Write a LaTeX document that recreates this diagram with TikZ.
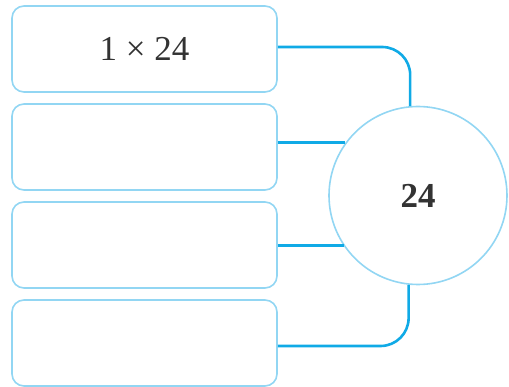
\documentclass[tikz,border=0pt]{standalone}
\usepackage{fontspec}
\setmainfont{Liberation Serif}
\definecolor{edgeblue}{HTML}{92D6F3}
\definecolor{linkblue}{HTML}{10AAE6}
\begin{document}
\begin{tikzpicture}[x=1pt,y=-1pt,
  factorbox/.style={draw=edgeblue,line width=1.6pt,rounded corners=12pt,
    minimum width=265pt,minimum height=86pt,inner sep=0pt,fill=white},
  hub/.style={circle,draw=edgeblue,line width=1.6pt,minimum size=178pt,inner sep=0pt,fill=white},
  link/.style={draw=linkblue,line width=2.6pt},
  txt/.style={font=\fontsize{35}{40}\selectfont,text=black!80}]
\useasboundingbox (0,0) rectangle (509,387);
\node[factorbox,txt] (b1) at (144.5,49) {1 × 24};
\node[factorbox] (b2) at (144.5,147) {};
\node[factorbox] (b3) at (144.5,245) {};
\node[factorbox] (b4) at (144.5,343) {};
\node[hub,txt,font=\fontsize{35}{40}\selectfont\bfseries] (c) at (418,195.5) {24};
\draw[link,rounded corners=28pt] ([yshift=2pt]b1.east) -| (c.95.8);
\draw[link] (b2.east |- c.144.6) -- (c.144.6);
\draw[link] (b3.east |- c.214.6) -- (c.214.6);
\draw[link,rounded corners=28pt] ([yshift=-3pt]b4.east) -| (c.264.2);
\end{tikzpicture}
\end{document}
